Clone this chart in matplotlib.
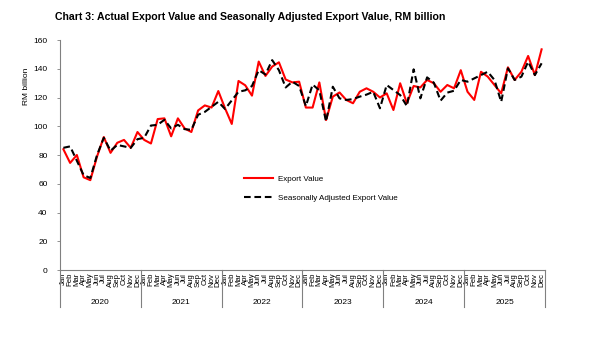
import matplotlib
matplotlib.use("Agg")
import matplotlib.pyplot as plt
import matplotlib.transforms as mtransforms

plt.rcParams["font.family"] = ["Liberation Sans", "DejaVu Sans"]

# Monthly data, Jan 2020 - Dec 2025 (RM billion)
years = ["2020", "2021", "2022", "2023", "2024", "2025"]
months = ["Jan", "Feb", "Mar", "Apr", "May", "Jun",
          "Jul", "Aug", "Sep", "Oct", "Nov", "Dec"]

export_value = [
    84, 74.5, 80, 64.5, 62.5, 79, 92.5, 81.5, 88.5, 90.5, 85, 96,
    90.5, 88, 105, 105.5, 93, 105.5, 98.5, 96, 111, 114.5, 113, 124.5,
    112.5, 101.6, 131.5, 128.5, 121.3, 145, 135, 141.5, 144.5, 132.5, 130.5, 131,
    113, 113, 130.5, 104.3, 120.6, 123.5, 118.3, 116, 124, 126.4, 124, 120,
    122.9, 111.3, 129.9, 116, 128, 127, 132.2, 129.9, 124, 128.7, 126.4, 139,
    124, 118.3, 137.9, 134.5, 128.7, 122.9, 141, 132.2, 137.9, 148.9, 135.6, 153.5,
]
seasonally_adjusted = [
    85, 86, 76, 66, 64, 80, 92, 83, 87, 86, 85, 91,
    92, 100.5, 101, 104.5, 98.5, 101, 98, 97.5, 108, 110, 113.5, 117,
    112, 118, 124, 125, 128, 139, 136, 146, 139, 127, 131, 128,
    114, 129, 125, 103.3, 127.5, 119.4, 118.3, 118.9, 120.6, 122, 124, 112.5,
    128.7, 125.2, 121.7, 114, 139.6, 119.4, 134, 130.3, 117.8, 123.4, 124.7, 132.2,
    131, 133.3, 135.6, 137.9, 132.2, 117, 140.3, 132.2, 134.5, 144.9, 135.6, 143.8,
]

x = list(range(len(export_value)))

fig = plt.figure(figsize=(5.99, 3.39), dpi=100)
ax = fig.add_axes([0.1002, 0.2035, 0.8096, 0.6785])

ax.plot(x, export_value, color="#ff0000", lw=1.5, label="Export Value")
ax.plot(x, seasonally_adjusted, color="black", lw=1.5, ls=(0, (3.2, 1.8)),
        label="Seasonally Adjusted Export Value")

ax.set_xlim(-0.5, len(x) - 0.5)
ax.set_ylim(0, 160)
ax.set_yticks(range(0, 161, 20))
ax.tick_params(axis="y", labelsize=6, length=2, width=0.6, color="#808080", pad=7)

ax.set_xticks(x)
ax.set_xticklabels(months * len(years), rotation=90, fontsize=5.6, va="top")
ax.tick_params(axis="x", length=0, pad=2)

for s in ["top", "right"]:
    ax.spines[s].set_visible(False)
for s in ["left", "bottom"]:
    ax.spines[s].set_color("#808080")
    ax.spines[s].set_linewidth(0.8)

# year groups under the month labels
trans = mtransforms.blended_transform_factory(ax.transData, ax.transAxes)
for k in range(len(years) + 1):
    ax.plot([12 * k - 0.5, 12 * k - 0.5], [0, -0.16], transform=trans,
            color="#808080", lw=0.8, clip_on=False)
for k, yr in enumerate(years):
    ax.text(12 * k + 5.5, -0.142, yr, transform=trans, ha="center", va="center",
            fontsize=6)

ax.set_ylabel("RM billion", fontsize=6)
ax.yaxis.set_label_coords(-0.061, 0.8)

ax.legend(loc="upper left", bbox_to_anchor=(0.365, 0.445), frameon=False,
          fontsize=5.8, handlelength=3.6, labelspacing=1.5, handletextpad=0.6)

fig.text(0.092, 0.95, "Chart 3: Actual Export Value and Seasonally Adjusted Export Value, RM billion",
         fontsize=7.6, fontweight="bold", va="center")

fig.savefig("out.png", dpi=100)
